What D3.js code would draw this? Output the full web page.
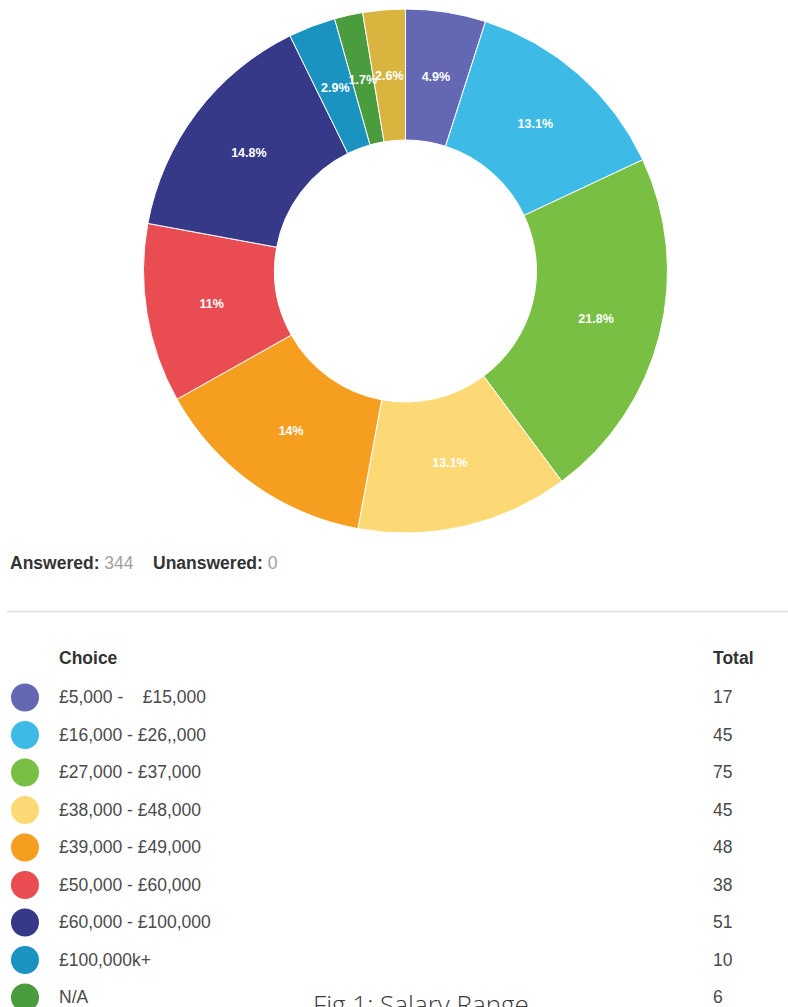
<!DOCTYPE html>
<html>
<head>
<meta charset="utf-8">
<script src="https://cdn.jsdelivr.net/npm/d3@7/dist/d3.min.js"></script>
<style>
  html, body { margin: 0; padding: 0; background: #fff; overflow: hidden; }
  svg { display: block; }
</style>
</head>
<body>
<svg id="chart" width="788" height="1007"></svg>
<script>
// Salary range survey responses (table rows listed in the choice table)
const categories = [
  "£5,000 -    £15,000",
  "£16,000 - £26,,000",
  "£27,000 - £37,000",
  "£38,000 - £48,000",
  "£39,000 - £49,000",
  "£50,000 - £60,000",
  "£60,000 - £100,000",
  "£100,000k+",
  "N/A"
];
// Response counts per slice, in pie order (the last slice has no row in the table view)
const totals = [17, 45, 75, 45, 48, 38, 51, 10, 6, 9];
const colors = [
  "#6468b2", "#3dbae5", "#78bf43", "#fdd976", "#f59e20",
  "#e94d51", "#363987", "#1a93c1", "#4b9b3f", "#d9b53f"
];
const answered = 344;
const unanswered = 0;
const title = "Fig 1: Salary Range";

const svg = d3.select("#chart");
const fontUI = "'Liberation Sans', Arial, Helvetica, sans-serif";
const uiSize = 17.5;

// ---- Donut ----
const cx = 405.5, cy = 271, rOuter = 262, rInner = 131;
const sum = d3.sum(totals);
const pie = d3.pie().sort(null).value(d => d)(totals);
const arc = d3.arc().innerRadius(rInner).outerRadius(rOuter);

const g = svg.append("g").attr("transform", `translate(${cx},${cy})`);
g.selectAll("path.slice")
  .data(pie)
  .join("path")
  .attr("class", "slice")
  .attr("d", arc)
  .attr("fill", (d, i) => colors[i])
  .attr("stroke", "#ffffff")
  .attr("stroke-width", 1);

const pctFmt = v => {
  const p = Math.round(v / sum * 1000) / 10;
  return (Number.isInteger(p) ? p.toFixed(0) : p.toFixed(1)) + "%";
};

g.selectAll("text.pct")
  .data(pie)
  .join("text")
  .attr("class", "pct")
  .attr("transform", d => `translate(${arc.centroid(d)})`)
  .attr("text-anchor", "middle")
  .attr("dy", "0.35em")
  .attr("font-family", fontUI)
  .attr("font-weight", "bold")
  .attr("font-size", 12.5)
  .attr("fill", "#ffffff")
  .text(d => pctFmt(d.value));

// ---- Summary line ----
const summary = svg.append("text")
  .attr("x", 10).attr("y", 569)
  .attr("font-family", fontUI)
  .attr("font-size", uiSize);
summary.append("tspan").attr("font-weight", "bold").attr("fill", "#333333").text("Answered:");
summary.append("tspan").attr("fill", "#a0a0a0").text(" " + answered);
summary.append("tspan").attr("font-weight", "bold").attr("fill", "#333333").attr("x", 153).text("Unanswered:");
summary.append("tspan").attr("fill", "#a0a0a0").text(" " + unanswered);

// separator
svg.append("line")
  .attr("x1", 7).attr("x2", 788)
  .attr("y1", 611.5).attr("y2", 611.5)
  .attr("stroke", "#dcdce6")
  .attr("stroke-width", 1.5);

// ---- Table ----
const headerY = 664;
svg.append("text")
  .attr("x", 59).attr("y", headerY)
  .attr("font-family", fontUI).attr("font-weight", "bold")
  .attr("font-size", uiSize).attr("fill", "#333333")
  .text("Choice");
svg.append("text")
  .attr("x", 713).attr("y", headerY)
  .attr("font-family", fontUI).attr("font-weight", "bold")
  .attr("font-size", uiSize).attr("fill", "#333333")
  .text("Total");

const rowY = d3.scaleLinear().domain([0, 1]).range([697.5, 735]);
const rows = svg.append("g")
  .selectAll("g.row")
  .data(categories)
  .join("g")
  .attr("class", "row")
  .attr("transform", (d, i) => `translate(0,${rowY(i)})`);

rows.append("circle")
  .attr("cx", 25).attr("cy", 0).attr("r", 14)
  .attr("fill", (d, i) => colors[i]);

rows.append("text")
  .attr("x", 59).attr("y", 5.5)
  .attr("font-family", fontUI).attr("font-size", uiSize)
  .attr("fill", "#4a4a4a")
  .style("white-space", "pre")
  .text(d => d);

rows.append("text")
  .attr("x", 713).attr("y", 5.5)
  .attr("font-family", fontUI).attr("font-size", uiSize)
  .attr("fill", "#4a4a4a")
  .text((d, i) => totals[i]);

// ---- Caption ----
svg.append("text")
  .attr("x", 421).attr("y", 1014)
  .attr("text-anchor", "middle")
  .attr("font-family", "'Open Sans', 'Noto Sans', sans-serif")
  .attr("font-weight", 300)
  .attr("font-size", 26)
  .attr("fill", "#3a3a3a")
  .text(title);
</script>
</body>
</html>
